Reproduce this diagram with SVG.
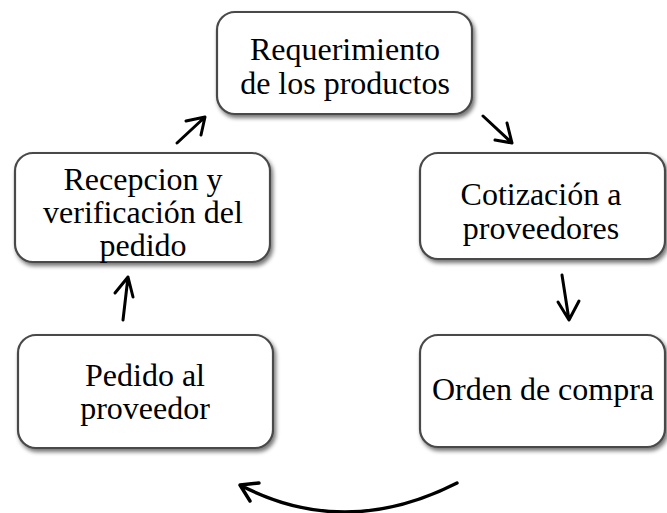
<svg xmlns="http://www.w3.org/2000/svg" width="667" height="513" viewBox="0 0 667 513">
<style>
.box{fill:#fff;stroke:#4a4a4a;stroke-width:2.2;filter:url(#sh)}
.t{font-family:"Liberation Serif","Times New Roman",serif;font-size:32px;fill:#000;text-anchor:middle}
.a{fill:none;stroke:#000;stroke-width:3;stroke-linecap:round;stroke-linejoin:round}
</style>
<defs>
<filter id="sh" x="-10%" y="-10%" width="125%" height="130%">
<feGaussianBlur in="SourceAlpha" stdDeviation="2"/>
<feOffset dx="2" dy="3" result="b"/>
<feComponentTransfer><feFuncA type="linear" slope="0.55"/></feComponentTransfer>
<feMerge><feMergeNode/><feMergeNode in="SourceGraphic"/></feMerge>
</filter>
</defs>
<g id="n1"><rect class="box" x="217" y="12" width="255" height="102" rx="18"/>
<text class="t" x="345" y="60">Requerimiento</text><text class="t" x="345" y="94">de los productos</text></g>
<g id="n2"><rect class="box" x="420" y="153" width="245" height="106" rx="18"/>
<text class="t" x="541" y="205">Cotización a</text><text class="t" x="541" y="239">proveedores</text></g>
<g id="n3"><rect class="box" x="420" y="335" width="245" height="112" rx="18"/>
<text class="t" x="543" y="400">Orden de compra</text></g>
<g id="n4"><rect class="box" x="18" y="335" width="255" height="113" rx="18"/>
<text class="t" x="145" y="386">Pedido al</text><text class="t" x="145" y="419">proveedor</text></g>
<g id="n5"><rect class="box" x="15" y="153" width="255" height="109" rx="18"/>
<text class="t" x="143" y="190">Recepcion y</text><text class="t" x="143" y="223">verificación del</text><text class="t" x="143" y="256">pedido</text></g>
<g id="connectors">
<path class="a" d="M483,116 L512,143 M495,140 L512,143 L507,123"/>
<path class="a" d="M562,275 L569,320 M558,302 L569,320 L579,301"/>
<path class="a" d="M457,483 Q345,540 240,485 M259,483 L240,485 L250,501" style="stroke-width:3.4"/>
<path class="a" d="M123,320 L128,277 M115,293 L128,277 L133,297"/>
<path class="a" d="M177,143 L205,117 M186,121 L205,117 L201,135"/>
</g>
</svg>
